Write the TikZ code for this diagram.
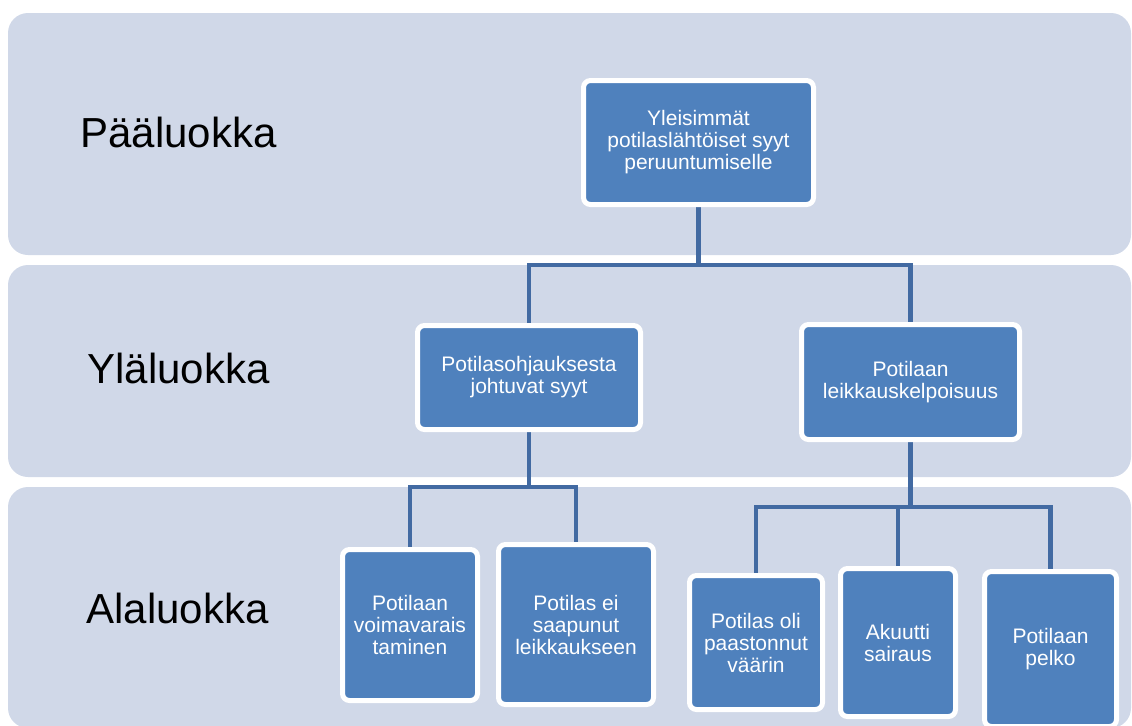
\documentclass[tikz,border=0pt]{standalone}
\usepackage{fontspec}
\setmainfont{Liberation Sans}
\usetikzlibrary{backgrounds}
\definecolor{bandblue}{RGB}{208,216,232}
\definecolor{boxblue}{RGB}{79,129,189}
\definecolor{lineblue}{RGB}{66,106,162}
\tikzset{
band/.style={fill=bandblue, rounded corners=10pt},
level/.style={anchor=base west, inner sep=0pt, font=\fontsize{21}{25}\selectfont},
cbox/.style={rectangle, rounded corners=3.5pt, fill=boxblue, draw=white, line width=2.5pt,
  text=white, align=center, inner sep=0pt, font=\fontsize{10.5}{11}\selectfont},
conn/.style={draw=lineblue, line width=2.3pt}
}
\begin{document}
\begin{tikzpicture}[x=0.5pt,y=-0.5pt]
\useasboundingbox (0,0) rectangle (1132,725);
\node[level](l1) at (80,147) {Pääluokka};
\node[level](l2) at (87,383) {Yläluokka};
\node[level](l3) at (86,623) {Alaluokka};
\node[cbox, minimum width=115pt, minimum height=62pt](p) at (698.5,142.5) {Yleisimmät\\potilaslähtöiset syyt\\peruuntumiselle};
\node[cbox, minimum width=111.5pt, minimum height=52pt](y1) at (529,377.5) {Potilasohjauksesta\\johtuvat syyt};
\node[cbox, minimum width=109pt, minimum height=57.5pt](y2) at (910.5,382) {Potilaan\\leikkauskelpoisuus};
\node[cbox, minimum width=67.5pt, minimum height=75.5pt](a1) at (410,625) {Potilaan\\voimavarais\\taminen};
\node[cbox, minimum width=77.5pt, minimum height=80pt](a2) at (576,624.5) {Potilas ei\\saapunut\\leikkaukseen};
\node[cbox, minimum width=66.5pt, minimum height=67pt](a3) at (756,642.5) {Potilas oli\\paastonnut\\väärin};
\node[cbox, minimum width=57.5pt, minimum height=74pt](a4) at (898,642.5) {Akuutti\\sairaus};
\node[cbox, minimum width=66pt, minimum height=77.5pt](a5) at (1050.5,649) {Potilaan\\pelko};
\coordinate (j0) at (698.5,265);
\coordinate (j1) at (529,487);
\coordinate (j2) at (910.5,507);
\begin{pgfonlayer}{background}
\fill[band] (8,13) rectangle (1131,255);
\fill[band] (8,265) rectangle (1131,477);
\fill[band] (8,487) rectangle (1131,728);
\draw[conn] (p) -- (j0);
\draw[conn] (y1.north) |- (j0) -| (y2.north);
\draw[conn] (y1) -- (j1);
\draw[conn] (a1.north) |- (j1) -| (a2.north);
\draw[conn] (y2) -- (j2);
\draw[conn] (a3.north) |- (j2) -| (a5.north);
\draw[conn] (j2) -| (a4.north);
\end{pgfonlayer}
\end{tikzpicture}
\end{document}
